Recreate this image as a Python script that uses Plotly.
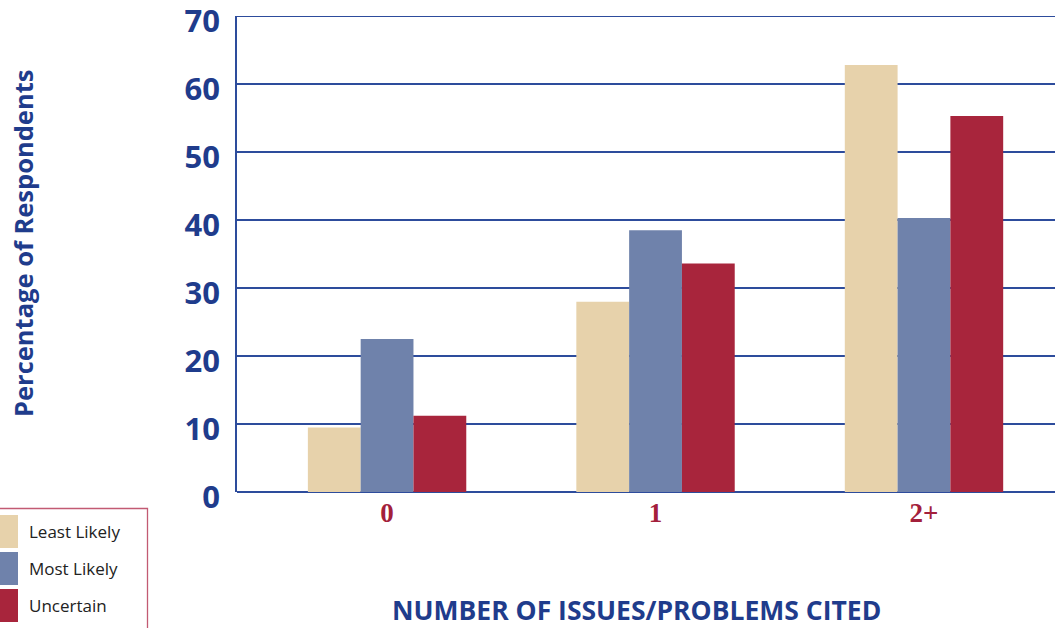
import plotly.graph_objects as go

categories = ["0", "1", "2+"]
series_names = ["Least Likely", "Most Likely", "Uncertain"]
least_likely = [9.5, 28.0, 62.8]
most_likely = [22.5, 38.5, 40.3]
uncertain = [11.2, 33.6, 55.3]
y_ticks = [0, 10, 20, 30, 40, 50, 60, 70]

colors = ["#e7d2ab", "#6f82ab", "#a8253c"]
values = [least_likely, most_likely, uncertain]

W, H = 1055, 628
L, R, T, B = 237, 0, 16, 136
pw = W - L - R
ph = H - T - B

def px(x):
    return (x - L) / pw

def py(y):
    return (H - B - y) / ph

xpos = list(range(len(categories)))

fig = go.Figure()
for name, vals, c in zip(series_names, values, colors):
    fig.add_trace(go.Bar(x=xpos, y=vals, name=name, marker=dict(color=c, line=dict(width=0)),
                         showlegend=False))

BLUE = "#1f3c8c"
GRID = "#2d4c9c"

fig.update_layout(
    width=W, height=H,
    margin=dict(l=L, r=R, t=T, b=B, pad=0, autoexpand=False),
    paper_bgcolor="white", plot_bgcolor="white",
    barmode="group", bargap=0.41, bargroupgap=0,
    xaxis=dict(range=[-0.559, 2.488], tickvals=xpos, ticktext=categories,
               showgrid=False, zeroline=False, showline=False, automargin=False,
               ticks="", tickfont=dict(family="Liberation Serif", size=27, color="#a3203b", weight="bold"),
               ticklabelstandoff=2),
    yaxis=dict(range=[0, 70.02], tickvals=y_ticks, showgrid=True, gridcolor=GRID, gridwidth=1.6,
               zeroline=True, zerolinecolor=GRID, zerolinewidth=1.6,
               showline=True, linecolor=GRID, linewidth=1.6, automargin=False,
               ticks="", ticklabelstandoff=9, ticklabelshift=5, ticklabeloverflow="allow",
               tickfont=dict(family="Open Sans", size=31, color=BLUE, weight="bold")),
    font=dict(family="Open Sans"),
)

shapes = []
annotations = []
# top gridline at the maximum tick (plotly omits the grid line at the range edge)
shapes.append(dict(type="line", xref="paper", yref="y", x0=0, x1=1,
                   y0=y_ticks[-1], y1=y_ticks[-1], line=dict(color=GRID, width=1.6)))
# custom legend (large swatches) at bottom-left
shapes.append(dict(type="rect", xref="paper", yref="paper",
                   x0=px(-2), x1=px(147.5), y0=py(640), y1=py(508.5),
                   line=dict(color="#c25a73", width=1.3), fillcolor="rgba(0,0,0,0)"))
sw_tops = [515, 552, 589]
for i, (name, c) in enumerate(zip(series_names, colors)):
    top = sw_tops[i]
    shapes.append(dict(type="rect", xref="paper", yref="paper",
                       x0=px(0), x1=px(18), y0=py(top + 33), y1=py(top),
                       line=dict(width=0), fillcolor=c))
    annotations.append(dict(xref="paper", yref="paper", x=px(27), y=py(top + 16.5),
                            xanchor="left", yanchor="middle", text=name, showarrow=False,
                            font=dict(family="Open Sans", size=17, color="#222222")))
annotations.append(dict(xref="paper", yref="paper", x=px(636.5), y=py(610),
                        xanchor="center", yanchor="middle", showarrow=False,
                        text="NUMBER OF ISSUES/PROBLEMS CITED",
                        font=dict(family="Open Sans", size=26.5, color=BLUE, weight="bold")))
annotations.append(dict(xref="paper", yref="paper", x=px(23.5), y=py(243.5),
                        xanchor="center", yanchor="middle", showarrow=False, textangle=-90,
                        text="Percentage of Respondents",
                        font=dict(family="Open Sans", size=25.5, color=BLUE, weight="bold")))
fig.update_layout(shapes=shapes, annotations=annotations)

fig.write_html("out.html", config={"displayModeBar": False},
               post_script="document.body.style.margin='0';document.body.style.overflow='hidden';")
